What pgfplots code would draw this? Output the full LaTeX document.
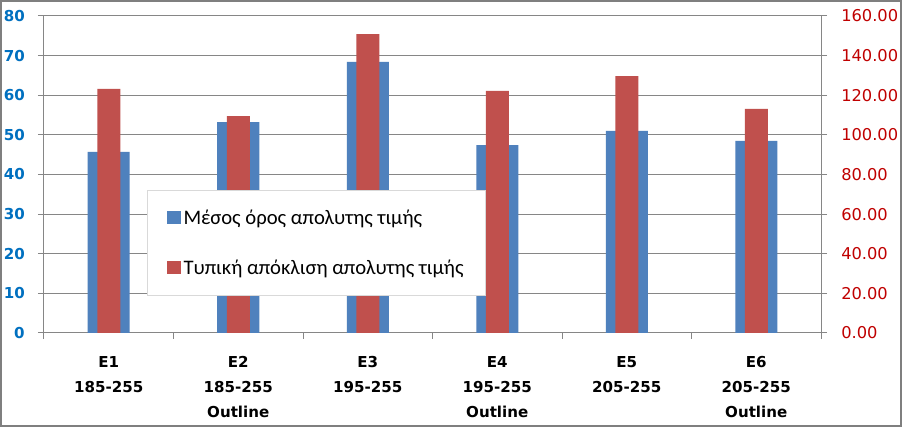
\documentclass[border=0pt]{standalone}
\usepackage{fontspec}
\usepackage{pgfplots}
\pgfplotsset{compat=1.18}
\setmainfont{Carlito}
\newfontfamily\dejavu{DejaVu Sans}
\definecolor{barblue}{HTML}{4F81BD}
\definecolor{barred}{HTML}{C0504D}
\definecolor{tickblue}{HTML}{0070C0}
\definecolor{tickred}{HTML}{C00000}
\definecolor{gridgray}{HTML}{868686}
\definecolor{framegray}{HTML}{7F7F7F}
\definecolor{leggray}{HTML}{D9D9D9}
\begin{document}
\begin{tikzpicture}
\useasboundingbox (0pt,0pt) rectangle (676.5pt,320.25pt);
\draw[draw=framegray, line width=1.5pt, fill=white] (0.75pt,0.75pt) rectangle (675.75pt,319.5pt);
\begin{axis}[
  at={(33pt,70.5pt)}, anchor=south west,
  scale only axis, width=582.75pt, height=237.75pt,
  xmin=-0.5, xmax=5.5, ymin=0, ymax=80,
  ytick={0,10,...,80},
  axis y line*=left, axis x line*=bottom,
  axis line style={gridgray, line width=0.75pt},
  ymajorgrids, major grid style={gridgray, line width=0.75pt},
  tick align=outside, major tick length=4.5pt, minor tick length=4.5pt,
  tick style={gridgray, line width=0.75pt},
  xtick={0,...,5},
  xticklabels={{E1\\185-255},{E2\\185-255\\Outline},{E3\\195-255},{E4\\195-255\\Outline},{E5\\205-255},{E6\\205-255\\Outline}},
  major x tick style={draw=none},
  minor xtick={-0.5,0.5,...,5.5},
  xticklabel style={align=center, font=\dejavu\bfseries\fontsize{11.3}{18.75}\selectfont, text=black, yshift=-9.5pt},
  /pgf/number format/assume math mode=true,
  yticklabel style={font=\dejavu\bfseries\fontsize{11.3}{13}\selectfont, text=tickblue, anchor=east, inner sep=0pt, xshift=-9.75pt},
  ybar, bar width=31.5pt, bar shift=0pt,
]
\addplot[fill=barblue, draw=none] coordinates {(0,45.7) (1,53.2) (2,68.4) (3,47.4) (4,51.0) (5,48.5)};
\end{axis}
\begin{axis}[
  at={(33pt,70.5pt)}, anchor=south west,
  scale only axis, width=582.75pt, height=237.75pt,
  xmin=-0.5, xmax=5.5, ymin=0, ymax=160,
  ytick={0,20,...,160},
  axis y line*=right, axis x line=none,
  axis line style={gridgray, line width=0.75pt},
  tick align=outside, major tick length=4.5pt,
  tick style={gridgray, line width=0.75pt},
  /pgf/number format/.cd, fixed, fixed zerofill, precision=2, assume math mode=true, /pgfplots/.cd,
  yticklabel style={font=\dejavu\fontsize{12.2}{15}\selectfont, text=tickred, anchor=west, inner sep=0pt, xshift=10.5pt},
  ybar, bar width=17.25pt, bar shift=0pt,
  legend style={at={(0.1326,0.451)}, anchor=north west, draw=leggray, line width=0.75pt, fill=white,
    font=\fontsize{15.5}{18}\selectfont, row sep=21pt, inner xsep=14.5pt, inner ysep=12.5pt},
  legend cell align=left,
  legend image code/.code={\fill[#1] (0pt,-4.5pt) rectangle (10.5pt,5pt);},
]
\addlegendimage{fill=barblue, draw=none}
\addlegendentry{Μέσος όρος απολυτης τιμής}
\addplot[fill=barred, draw=none] coordinates {(0,123.2) (1,109.5) (2,150.9) (3,122.2) (4,129.7) (5,113.1)};
\addlegendentry{Τυπική απόκλιση απολυτης τιμής}
\end{axis}
\end{tikzpicture}
\end{document}
